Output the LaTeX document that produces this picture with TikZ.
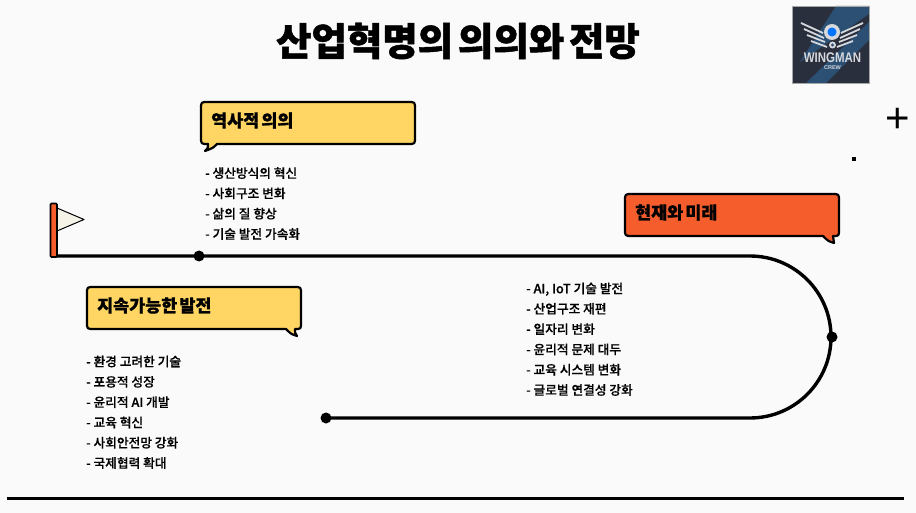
\documentclass[tikz,border=0pt]{standalone}
\usepackage{fontspec}
\setmainfont{Noto Sans CJK KR}[BoldFont={* Black}]
\newfontfamily\titlefont{Noto Sans CJK KR Black}[WordSpace=0.55,FakeBold=1.2]
\newfontfamily\headfont{Noto Sans CJK KR Black}[WordSpace=0.55,FakeBold=0.8]
\newfontfamily\bodyfont{Noto Sans CJK KR Medium}[FakeBold=0.4]
\newfontfamily\logofont{Liberation Sans}
\definecolor{bgc}{HTML}{FAFAFA}
\definecolor{yel}{HTML}{FFD664}
\definecolor{org}{HTML}{F55D2D}
\definecolor{flagc}{HTML}{F5F3E8}
\definecolor{logod}{HTML}{2A2F3D}
\definecolor{logob}{HTML}{2C4F74}
\definecolor{logos}{HTML}{D5D8DC}
\tikzset{
  x=1pt,y=-1pt,
  bubble/.style={draw=black,line width=2.2pt,line join=round},
  headtext/.style={anchor=west,inner sep=0pt,font=\headfont\fontsize{17.4}{18}\selectfont,text=black},
  itemlist/.style={anchor=north west,inner sep=0pt,align=left,font=\bodyfont\fontsize{12.7}{20.3}\selectfont,text=black},
  road/.style={draw=black,line width=3.4pt},
  stopdot/.style={circle,fill=black,inner sep=0pt,minimum size=11pt},
  wingline/.style={draw=logos,line width=1.8pt},
}
\begin{document}
\begin{tikzpicture}
\useasboundingbox (0,0) rectangle (916,513);
\fill[bgc] (0,0) rectangle (916,513);
% title
\node[inner sep=0pt,font=\titlefont\fontsize{38.5}{40}\selectfont] (title) at (458,41) {산업혁명의 의의와 전망};
% logo
\fill[logod] (792,6) rectangle (869,83);
\fill[logob] (836,6) -- (869,6) -- (869,40) -- (826,83) -- (806,83) -- (869,22) -- (869,14) -- (800,62) -- cycle;
\draw[gray!70!white,line width=.6pt] (792,6) rectangle (869,83);
\draw[wingline] (801,23) -- (823,33);
\draw[wingline] (804,29) -- (824,38);
\draw[wingline] (807,35) -- (825,42);
\draw[wingline] (811,41) -- (827,47);
\draw[wingline] (863,23) -- (841,33);
\draw[wingline] (860,29) -- (840,38);
\draw[wingline] (857,35) -- (839,42);
\draw[wingline] (853,41) -- (837,47);
\fill[logos] (832,32) circle (8);
\fill[blue!55!cyan] (832,32) circle (4.5);
\fill[logos] (832.5,45) circle (3.5);
\fill[logob] (832.5,45) circle (1.6);
\node[inner sep=0pt,text=logos,xscale=.82,font=\logofont\bfseries\fontsize{14}{14}\selectfont] (logoa) at (832.5,58) {WINGMAN};
\node[inner sep=0pt,text=logos,font=\logofont\bfseries\fontsize{5.5}{6}\selectfont] (logob) at (832.5,67.5) {CREW};
% marks
\node[inner sep=0pt,font=\logofont\fontsize{42}{42}\selectfont] (plus) at (898,120) {+};
\fill[black] (852.3,157) rectangle (856.3,161);
% road
\coordinate (start) at (51,256);
\coordinate (top) at (750,256);
\node[stopdot] (d1) at (199,256) {};
\node[stopdot] (d2) at (832,337) {};
\node[stopdot] (d3) at (326,418) {};
\draw[road] (start) -- (top) arc[start angle=-90,end angle=90,radius=81] -- (d3.center);
% flag
\draw[black,line width=1pt,fill=flagc,line join=round] (57,208) -- (84,219.5) -- (57,231) -- cycle;
\draw[black,line width=1.6pt,fill=org,rounded corners=1pt] (50.5,203.5) rectangle (57,257);
% bubbles
\draw[bubble,fill=yel] (208,102) -- (408,102) .. controls (415,102) .. (415,109) -- (415,137) .. controls (415,144) .. (408,144) -- (217,144) .. controls (213,148) .. (205,151) .. controls (208,148) .. (208,144) .. controls (201,144) .. (201,137) -- (201,109) .. controls (201,102) .. (208,102) -- cycle;
\node[headtext] (h1) at (211,120.5) {역사적 의의};
\draw[bubble,fill=yel] (94,287) -- (294,287) .. controls (301,287) .. (301,294) -- (301,322) .. controls (301,329) .. (295,329) .. controls (295,333) .. (297,336) .. controls (291,334) .. (286,329) -- (94,329) .. controls (87,329) .. (87,322) -- (87,294) .. controls (87,287) .. (94,287) -- cycle;
\node[headtext] (h2) at (97,305.5) {지속가능한 발전};
\draw[bubble,fill=org] (632,194) -- (832,194) .. controls (839,194) .. (839,201) -- (839,229) .. controls (839,236) .. (833,236) .. controls (833,240) .. (834,243) .. controls (828,241) .. (823,236) -- (632,236) .. controls (625,236) .. (625,229) -- (625,201) .. controls (625,194) .. (632,194) -- cycle;
\node[headtext] (h3) at (635,212.5) {현재와 미래};
% lists
\node[itemlist] (l1) at (205,167) {- 생산방식의 혁신\\- 사회구조 변화\\- 삶의 질 향상\\- 기술 발전 가속화};
\node[itemlist] (l2) at (86,355.5) {- 환경 고려한 기술\\- 포용적 성장\\- 윤리적 AI 개발\\- 교육 혁신\\- 사회안전망 강화\\- 국제협력 확대};
\node[itemlist] (l3) at (526,282.5) {- AI, IoT 기술 발전\\- 산업구조 재편\\- 일자리 변화\\- 윤리적 문제 대두\\- 교육 시스템 변화\\- 글로벌 연결성 강화};
% baseline
\draw[black,line width=3pt] (7,498) -- (904,498);
\end{tikzpicture}
\end{document}
